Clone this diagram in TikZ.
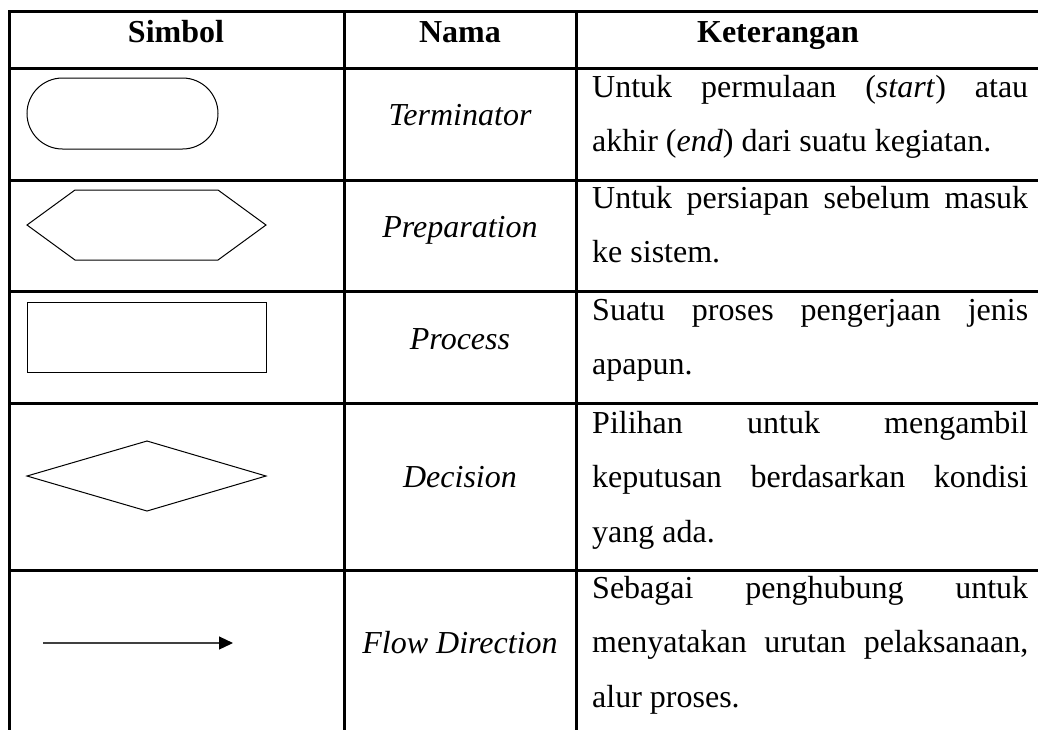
\documentclass[tikz,border=0pt]{standalone}
\usepackage{fontspec}
\setmainfont{Liberation Serif}
\usetikzlibrary{arrows.meta}
\newcommand{\cellfont}{\fontsize{32}{54.5}\selectfont}
\newcommand{\jl}[1]{\hbox to 436pt{#1}}
\begin{document}
\begin{tikzpicture}[x=1pt,y=-1pt,
  grid/.style={line width=3pt,line cap=rect},
  shapeline/.style={line width=1pt,black},
  headtxt/.style={anchor=base,inner sep=0pt,font=\cellfont\bfseries},
  nametxt/.style={anchor=base,inner sep=0pt,font=\cellfont\itshape},
  desctxt/.style={anchor=base west,inner sep=0pt,font=\cellfont}]
\useasboundingbox (0,0) rectangle (1038,729);
\fill[white] (0,0) rectangle (1038,729);
% table grid
\foreach \yy in {11,68,180,291,403,570}
  \draw[grid] (9,\yy) -- (1040,\yy);
\foreach \xx in {9,344,576}
  \draw[grid] (\xx,11) -- (\xx,732);
% headers
\node[headtxt] (hs) at (176,42) {Simbol};
\node[headtxt] (hn) at (460,42) {Nama};
\node[headtxt] (hk) at (778,42) {Keterangan};
% symbols
\draw[shapeline,rounded corners=35.5pt] (27,78) rectangle (218,149);
\draw[shapeline] (27,225) -- (75,190) -- (218,190) -- (266,225) -- (218,260) -- (75,260) -- cycle;
\draw[shapeline] (27,302) rectangle (266,372);
\draw[shapeline] (27,476) -- (147,441) -- (266,476) -- (147,511) -- cycle;
\coordinate (as) at (43,643);
\coordinate (ae) at (233,643);
\draw[line width=1.2pt,black!75,-{Triangle[length=14pt,width=13pt,fill=black,color=black]}] (as) -- (ae);
% names
\node[nametxt] (n1) at (460,125) {Terminator};
\node[nametxt] (n2) at (460,237) {Preparation};
\node[nametxt] (n3) at (460,349) {Process};
\node[nametxt] (n4) at (460,487) {Decision};
\node[nametxt] (n5) at (460,653) {Flow Direction};
% descriptions
\node[desctxt] (k1) at (592,97) {\parbox[t]{436pt}{\cellfont
  \jl{Untuk\hfill permulaan\hfill (\textit{start})\hfill atau}
  \hbox{akhir (\textit{end}) dari suatu kegiatan.}}};
\node[desctxt] (k2) at (592,208) {\parbox[t]{436pt}{\cellfont
  \jl{Untuk\hfill persiapan\hfill sebelum\hfill masuk}
  \hbox{ke sistem.}}};
\node[desctxt] (k3) at (592,320) {\parbox[t]{436pt}{\cellfont
  \jl{Suatu\hfill proses\hfill pengerjaan\hfill jenis}
  \hbox{apapun.}}};
\node[desctxt] (k4) at (592,433) {\parbox[t]{436pt}{\cellfont
  \jl{Pilihan\hfill untuk\hfill mengambil}
  \jl{keputusan\hfill berdasarkan\hfill kondisi}
  \hbox{yang ada.}}};
\node[desctxt] (k5) at (592,598) {\parbox[t]{436pt}{\cellfont
  \jl{Sebagai\hfill penghubung\hfill untuk}
  \jl{menyatakan\hfill urutan\hfill pelaksanaan,}
  \hbox{alur proses.}}};
\end{tikzpicture}
\end{document}
